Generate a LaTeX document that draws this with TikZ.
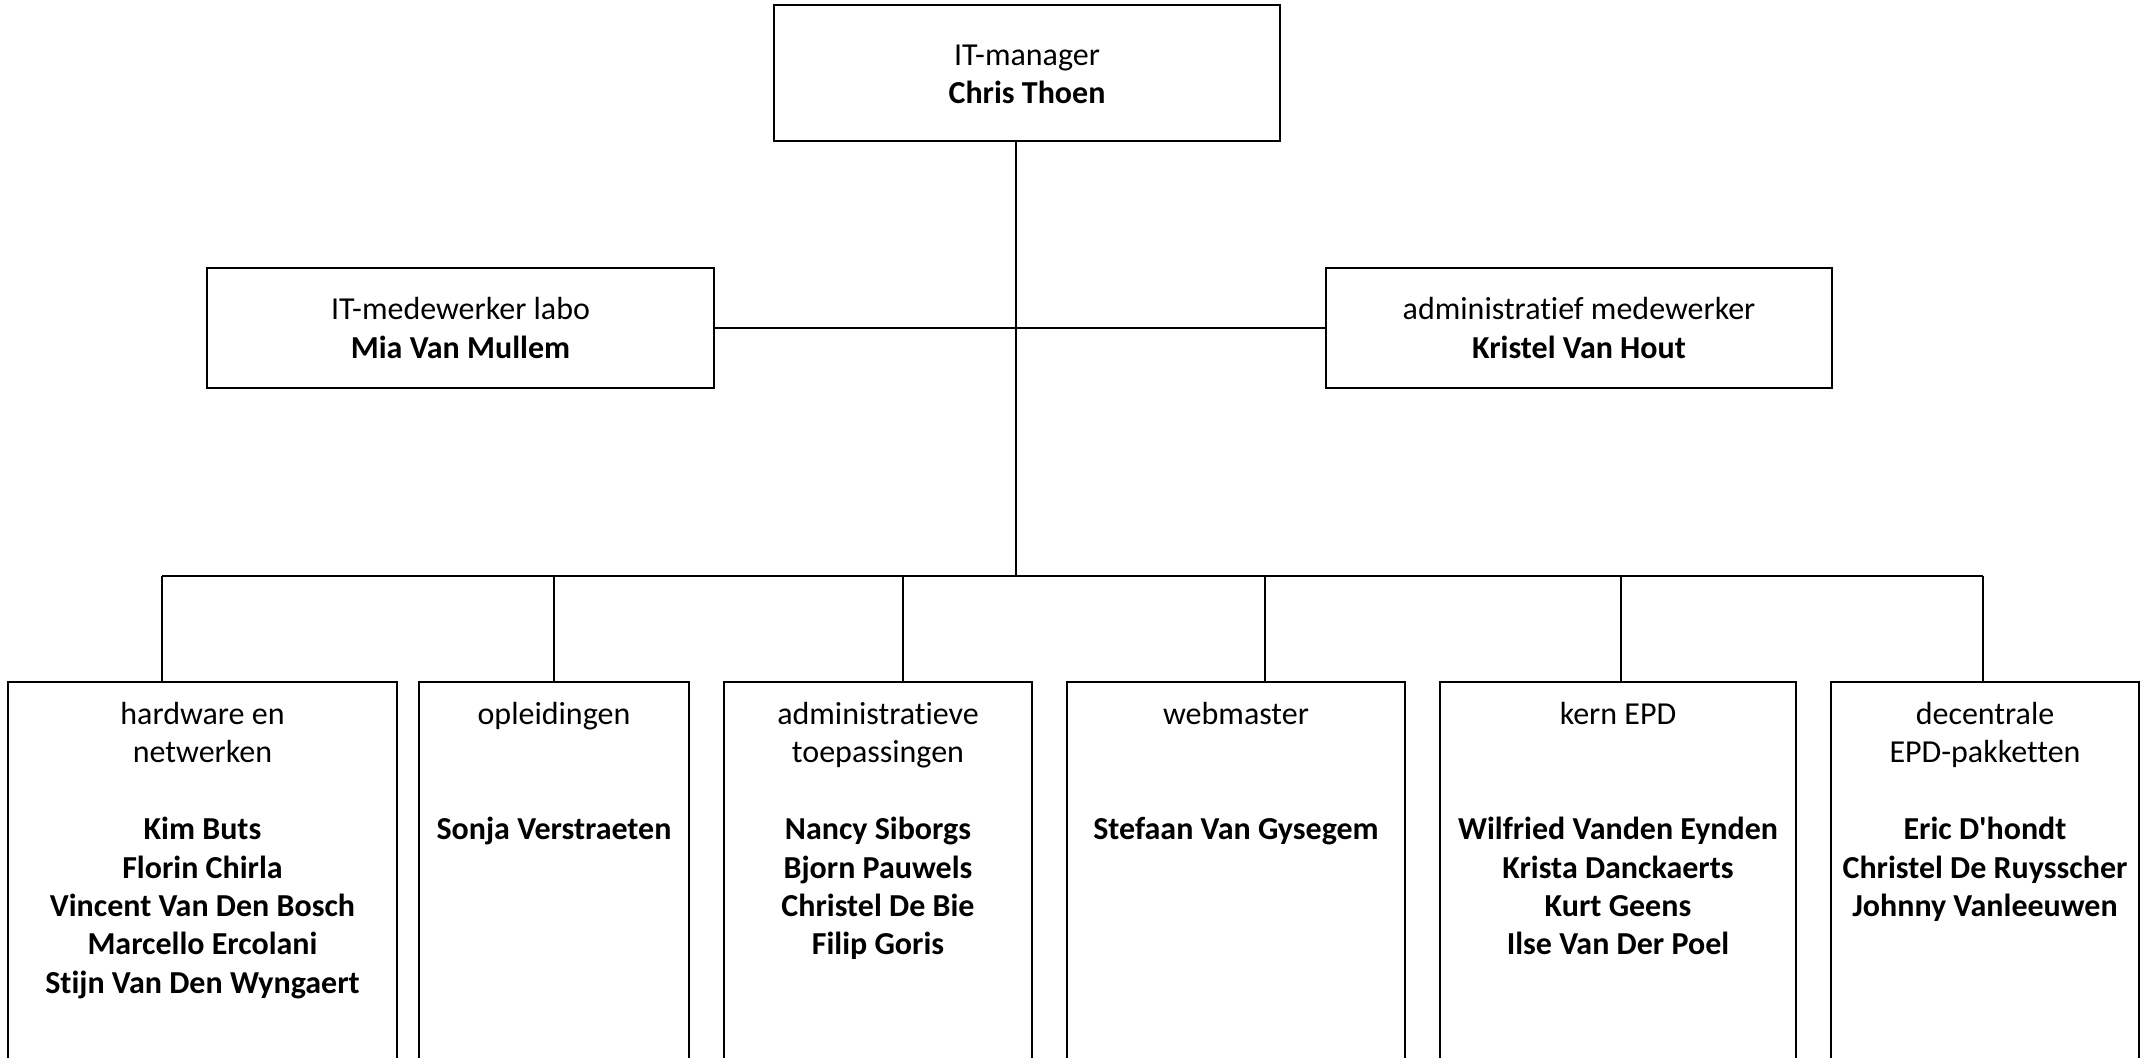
\documentclass[tikz,border=0pt]{standalone}
\usepackage{fontspec}
\setmainfont{Carlito}[Ligatures={NoCommon,TeXOff}]
\begin{document}
\begin{tikzpicture}[x=0.5pt,y=-0.5pt,
  box/.style={draw, line width=0.8pt, inner sep=0pt, fill=white},
  txt/.style={align=center, font=\fontsize{16}{19.2}\selectfont, inner sep=0pt},
  conn/.style={line width=0.8pt}]
\useasboundingbox (0,0) rectangle (2152,1057);
\clip (0,0) rectangle (2152,1057);
% top level
\node[box, minimum width=253pt, minimum height=68pt] (mgr) at (1027,73) {};
\node[txt] (mgrt) at ([yshift=-0.7pt]mgr.center) {IT-manager\\\textbf{Chris Thoen}};
\node[box, minimum width=253.5pt, minimum height=60pt] (labo) at (460.5,328) {};
\node[txt] (labot) at (labo.center) {IT-medewerker labo\\\textbf{Mia Van Mullem}};
\node[box, minimum width=253pt, minimum height=60pt] (adm) at (1579,328) {};
\node[txt] (admt) at (adm.center) {administratief medewerker\\\textbf{Kristel Van Hout}};
% bottom boxes
\node[box, minimum width=194.5pt, minimum height=209pt] (hw) at (202.5,891) {};
\node[box, minimum width=135pt, minimum height=209pt] (opl) at (554,891) {};
\node[box, minimum width=154pt, minimum height=209pt] (atp) at (878,891) {};
\node[box, minimum width=169pt, minimum height=209pt] (web) at (1236,891) {};
\node[box, minimum width=178pt, minimum height=209pt] (epd) at (1618,891) {};
\node[box, minimum width=154pt, minimum height=209pt] (dec) at (1985,891) {};
\node[txt, anchor=north] (hwt) at ([yshift=-8pt]hw.north) {\strut hardware en\\netwerken\\[19.2pt]\textbf{Kim Buts}\\\textbf{Florin Chirla}\\\textbf{Vincent Van Den Bosch}\\\textbf{Marcello Ercolani}\\\textbf{Stijn Van Den Wyngaert}};
\node[txt, anchor=north] (oplt) at ([yshift=-8pt]opl.north) {\strut opleidingen\\[38.4pt]\textbf{Sonja Verstraeten}};
\node[txt, anchor=north] (atpt) at ([yshift=-8pt]atp.north) {\strut administratieve\\toepassingen\\[19.2pt]\textbf{Nancy Siborgs}\\\textbf{Bjorn Pauwels}\\\textbf{Christel De Bie}\\\textbf{Filip Goris}};
\node[txt, anchor=north] (webt) at ([yshift=-8pt]web.north) {\strut webmaster\\[38.4pt]\textbf{Stefaan Van Gysegem}};
\node[txt, anchor=north] (epdt) at ([yshift=-8pt]epd.north) {\strut kern EPD\\[38.4pt]\textbf{Wilfried Vanden Eynden}\\\textbf{Krista Danckaerts}\\\textbf{Kurt Geens}\\\textbf{Ilse Van Der Poel}};
\node[txt, anchor=north] (dect) at ([yshift=-8pt]dec.north) {\strut decentrale\\EPD-pakketten\\[19.2pt]\textbf{Eric D'hondt}\\\textbf{Christel De Ruysscher}\\\textbf{Johnny Vanleeuwen}};
% connectors
\coordinate (bus) at (1016,576);
\coordinate (busL) at (162,576);
\coordinate (busR) at (1983,576);
\coordinate (d2) at (554,576);
\coordinate (d3) at (903,576);
\coordinate (d4) at (1265,576);
\coordinate (d5) at (1621,576);
\draw[conn] (bus |- mgr.south) -- (bus);
\draw[conn] (labo.east) -- (adm.west);
\draw[conn] (busL) -- (busR);
\draw[conn] (busL) -- (busL |- hw.north);
\draw[conn] (d2) -- (d2 |- opl.north);
\draw[conn] (d3) -- (d3 |- atp.north);
\draw[conn] (d4) -- (d4 |- web.north);
\draw[conn] (d5) -- (d5 |- epd.north);
\draw[conn] (busR) -- (busR |- dec.north);
\end{tikzpicture}
\end{document}
